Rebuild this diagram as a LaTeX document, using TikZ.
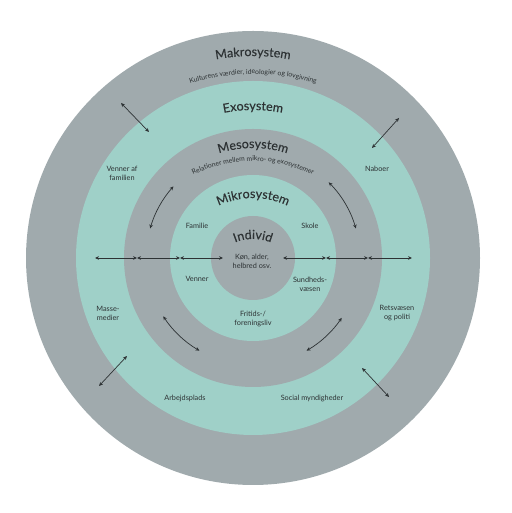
\documentclass[tikz,border=0pt]{standalone}
\usepackage{fontspec}
\setmainfont{Lato}
\newfontfamily\ttlfam[FakeBold=0.2]{Lato}
\usetikzlibrary{decorations.text,arrows.meta}
\definecolor{ringgray}{RGB}{160,170,173}
\definecolor{ringteal}{RGB}{159,208,200}
\definecolor{txt}{RGB}{45,50,52}
\newcommand\ttlfont{\ttlfam\fontsize{12.5}{14}\selectfont}
\newcommand\subfont{\fontsize{6.8}{8}\selectfont}
\newcommand\lblfont{\fontsize{7.3}{9}\selectfont}
\begin{document}
\begin{tikzpicture}[x=1pt,y=1pt,
  lbl/.style={font=\lblfont, text=txt, align=center, inner sep=0pt},
  conn/.style={draw=txt, line width=0.7pt, {Stealth[length=4pt,width=3.6pt]}-{Stealth[length=4pt,width=3.6pt]}}]
\useasboundingbox (0,0) rectangle (511,513);
\coordinate (C) at (253,255);
% rings
\fill[ringgray] (C) circle[radius=227];
\fill[ringteal] (C) circle[radius=177];
\fill[ringgray] (C) circle[radius=129];
\fill[ringteal] (C) circle[radius=83];
\fill[ringgray] (C) circle[radius=42];
% curved titles
\coordinate (c2) at (253,229);
\coordinate (c3) at (253,217);
\coordinate (c4) at (253,235);
\coordinate (c5) at (253,226);
\path[decorate, decoration={text along path, text align=center, text={|\ttlfont\color{txt}|Makrosystem}}]
  ([shift={(115:202)}]C) arc[start angle=115, end angle=65, radius=202];
\path[decorate, decoration={text along path, text align=center, text={|\subfont\color{txt}|Kulturens værdier, ideologier og lovgivning}}]
  ([shift={(130:210)}]c2) arc[start angle=130, end angle=50, radius=210];
\path[decorate, decoration={text along path, text align=center, text={|\ttlfont\color{txt}|Exosystem}}]
  ([shift={(120:148)}]C) arc[start angle=120, end angle=60, radius=148];
\path[decorate, decoration={text along path, text align=center, text={|\ttlfont\color{txt}|Mesosystem}}]
  ([shift={(130:110)}]C) arc[start angle=130, end angle=50, radius=110];
\path[decorate, decoration={text along path, text align=center, text={|\subfont\color{txt}|Relationer mellem mikro- og exosystemer}}]
  ([shift={(140:135)}]c3) arc[start angle=140, end angle=40, radius=135];
\path[decorate, decoration={text along path, text align=center, text={|\ttlfont\color{txt}|Mikrosystem}}]
  ([shift={(150:80)}]c4) arc[start angle=150, end angle=30, radius=80];
\path[decorate, decoration={text along path, text align=center, text={|\ttlfont\color{txt}|Individ}}]
  ([shift={(160:48)}]c5) arc[start angle=160, end angle=20, radius=48];
% labels
\node[lbl] (vaf) at (122,340) {Venner af\\familien};
\node[lbl] (nab) at (377,344) {Naboer};
\node[lbl] (fam) at (197,287) {Familie};
\node[lbl] (sko) at (310,287) {Skole};
\node[lbl] (kon) at (252,252) {Køn, alder,\\helbred osv.};
\node[lbl] (ven) at (197,234) {Venner};
\node[lbl] (sun) at (310,229) {Sundheds-\\væsen};
\node[lbl] (fri) at (253,194) {Fritids-/\\foreningsliv};
\node[lbl] (mas) at (108,200) {Masse-\\medier};
\node[lbl] (ret) at (397,200) {Retsvæsen\\og politi};
\node[lbl] (arb) at (185,115) {Arbejdsplads};
\node[lbl] (soc) at (312,115) {Social myndigheder};
% horizontal arrows
\foreach \n/\x in {h1/95,h2/137,h3/180,h4/223,h5/283,h6/326,h7/368,h8/412}
  \coordinate (\n) at (\x,255);
\draw[conn] (h1) -- (h2);
\draw[conn] (h2) -- (h3);
\draw[conn] (h3) -- (h4);
\draw[conn] (h5) -- (h6);
\draw[conn] (h6) -- (h7);
\draw[conn] (h7) -- (h8);
% diagonal arrows
\coordinate (ula) at (121,410); \coordinate (ulb) at (149,381);
\coordinate (ura) at (399,395); \coordinate (urb) at (372,365);
\coordinate (lla) at (127,157); \coordinate (llb) at (99,127);
\coordinate (lra) at (362,145); \coordinate (lrb) at (389,116);
\draw[conn] (ula) -- (ulb);
\draw[conn] (ura) -- (urb);
\draw[conn] (lla) -- (llb);
\draw[conn] (lra) -- (lrb);
% curved arrows in mesosystem
\coordinate (a1) at ([shift={(138:107)}]C);
\coordinate (a2) at ([shift={(45:107)}]C);
\coordinate (a3) at ([shift={(213:107)}]C);
\coordinate (a4) at ([shift={(326:107)}]C);
\draw[conn] (a1) arc[start angle=138, end angle=164, radius=107];
\draw[conn] (a2) arc[start angle=45, end angle=16, radius=107];
\draw[conn] (a3) arc[start angle=213, end angle=240, radius=107];
\draw[conn] (a4) arc[start angle=326, end angle=300, radius=107];
\end{tikzpicture}
\end{document}
